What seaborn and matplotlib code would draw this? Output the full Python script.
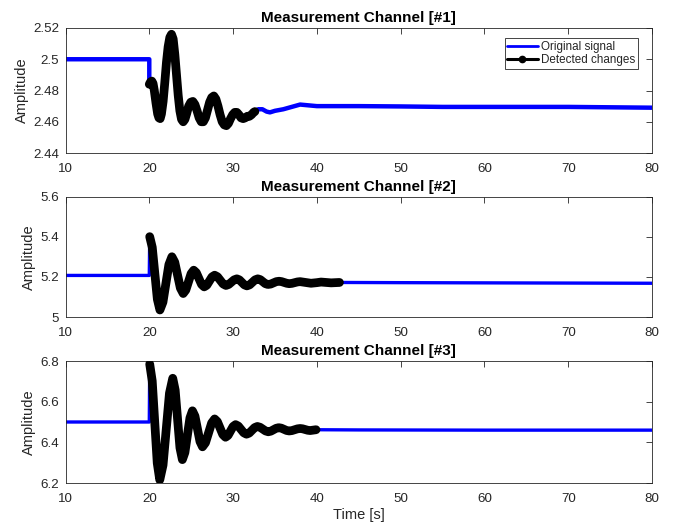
import matplotlib
matplotlib.use("Agg")
import matplotlib.pyplot as plt
from matplotlib.lines import Line2D
from matplotlib.ticker import FuncFormatter
import seaborn as sns

# ---- Channel 1 ----
ch1_pre_t = [10.0, 20.0]
ch1_pre_v = [2.500, 2.500]
ch1_det_t = [20.00, 20.15, 20.30, 20.45, 20.60, 20.80, 21.00, 21.15, 21.30, 21.45,
             21.65, 21.85, 22.05, 22.25, 22.45, 22.65, 22.85, 23.05, 23.25, 23.45,
             23.65, 23.85, 24.05, 24.25, 24.45, 24.70, 24.95, 25.20, 25.45, 25.70,
             25.95, 26.20, 26.45, 26.70, 26.95, 27.20, 27.45, 27.70, 27.95, 28.20,
             28.45, 28.70, 28.95, 29.20, 29.45, 29.70, 29.95, 30.20, 30.45, 30.70,
             30.95, 31.20, 31.45, 31.70, 31.95, 32.20, 32.45, 32.60]
ch1_det_v = [2.4840, 2.4855, 2.4860, 2.4845, 2.4800, 2.4720, 2.4650, 2.4625, 2.4620, 2.4650,
             2.4730, 2.4850, 2.4980, 2.5080, 2.5140, 2.5160, 2.5130, 2.5030, 2.4900, 2.4770,
             2.4670, 2.4615, 2.4600, 2.4615, 2.4650, 2.4700, 2.4725, 2.4730, 2.4710, 2.4670,
             2.4625, 2.4600, 2.4600, 2.4625, 2.4675, 2.4725, 2.4755, 2.4765, 2.4745, 2.4700,
             2.4645, 2.4600, 2.4580, 2.4575, 2.4590, 2.4620, 2.4645, 2.4660, 2.4660, 2.4645,
             2.4625, 2.4620, 2.4625, 2.4635, 2.4635, 2.4645, 2.4660, 2.4665]
ch1_post_t = [32.6, 33.0, 33.5, 34.0, 34.4, 35.0, 36.0, 37.0, 38.0, 39.0, 40.0,
              45.0, 50.0, 55.0, 60.0, 70.0, 80.0]
ch1_post_v = [2.4665, 2.4680, 2.4680, 2.4665, 2.4660, 2.4670, 2.4680, 2.4695, 2.4710,
              2.4705, 2.4700, 2.4700, 2.4698, 2.4695, 2.4695, 2.4695, 2.4690]

# ---- Channel 2 ----
ch2_pre_t = [10.0, 20.0]
ch2_pre_v = [5.207, 5.207]
ch2_det_t = [20.05, 20.355, 20.66, 20.965, 21.27, 21.63, 21.985, 22.34, 22.70,
             23.04, 23.375, 23.71, 24.05, 24.36, 24.675, 24.99, 25.30,
             25.61, 25.925, 26.24, 26.55, 26.86, 27.175, 27.49, 27.80,
             28.14, 28.475, 28.81, 29.15, 29.475, 29.80, 30.125, 30.45,
             30.75, 31.05, 31.35, 31.65, 31.975, 32.30, 32.625, 32.95,
             33.25, 33.55, 33.85, 34.15, 34.49, 34.825, 35.16, 35.50,
             35.80, 36.10, 36.40, 36.70, 37.025, 37.35, 37.675, 38.00,
             38.65, 39.30, 40.00, 40.50, 41.10, 41.70, 42.20, 42.70]
ch2_det_v = [5.400, 5.347, 5.2175, 5.088, 5.035, 5.074, 5.1675, 5.261, 5.300,
             5.273, 5.2085, 5.144, 5.117, 5.134, 5.175, 5.216, 5.233,
             5.221, 5.1915, 5.162, 5.150, 5.158, 5.179, 5.200, 5.208,
             5.2005, 5.1825, 5.1645, 5.157, 5.162, 5.1735, 5.185, 5.190,
             5.185, 5.1725, 5.160, 5.155, 5.160, 5.1725, 5.185, 5.190,
             5.186, 5.176, 5.166, 5.162, 5.164, 5.170, 5.176, 5.178,
             5.176, 5.172, 5.168, 5.166, 5.1675, 5.171, 5.1745, 5.176,
             5.172, 5.168, 5.171, 5.174, 5.172, 5.170, 5.171, 5.172]
ch2_post_t = [42.7, 50.0, 60.0, 70.0, 80.0]
ch2_post_v = [5.172, 5.171, 5.170, 5.169, 5.168]

# ---- Channel 3 ----
ch3_pre_t = [10.0, 20.0]
ch3_pre_v = [6.500, 6.500]
ch3_det_t = [20.05, 20.35, 20.65, 20.95, 21.25, 21.64, 22.025, 22.41, 22.80,
             23.09, 23.375, 23.66, 23.95, 24.25, 24.55, 24.85, 25.15,
             25.45, 25.75, 26.05, 26.35, 26.71, 27.075, 27.44, 27.80,
             28.125, 28.45, 28.775, 29.10, 29.40, 29.70, 30.00, 30.30,
             30.625, 30.95, 31.275, 31.60, 31.925, 32.25, 32.575, 32.90,
             33.225, 33.55, 33.875, 34.20, 34.51, 34.825, 35.14, 35.45,
             35.76, 36.075, 36.39, 36.70, 37.025, 37.35, 37.675, 38.00,
             38.30, 38.60, 38.90, 39.20, 39.55, 39.90]
ch3_det_v = [6.785, 6.702, 6.500, 6.298, 6.215, 6.288, 6.465, 6.642, 6.715,
             6.657, 6.515, 6.373, 6.315, 6.350, 6.435, 6.520, 6.555,
             6.529, 6.4665, 6.404, 6.378, 6.398, 6.4465, 6.495, 6.515,
             6.502, 6.470, 6.438, 6.425, 6.434, 6.456, 6.478, 6.487,
             6.480, 6.4635, 6.447, 6.440, 6.4455, 6.459, 6.4725, 6.478,
             6.474, 6.465, 6.456, 6.452, 6.455, 6.462, 6.469, 6.472,
             6.4697, 6.464, 6.4583, 6.456, 6.4578, 6.462, 6.4662, 6.468,
             6.4665, 6.463, 6.4595, 6.458, 6.460, 6.462]
ch3_post_t = [39.9, 45.0, 60.0, 80.0]
ch3_post_v = [6.462, 6.461, 6.460, 6.460]

titles = ["Measurement Channel [#1]", "Measurement Channel [#2]", "Measurement Channel [#3]"]
y_limits = [(2.44, 2.52), (5.0, 5.6), (6.2, 6.8)]
y_ticks = [[2.44, 2.46, 2.48, 2.50, 2.52], [5.0, 5.2, 5.4, 5.6], [6.2, 6.4, 6.6, 6.8]]
x_ticks = [10, 20, 30, 40, 50, 60, 70, 80]
legend_labels = ["Original signal", "Detected changes"]

channels = [
    (ch1_pre_t, ch1_pre_v, ch1_det_t, ch1_det_v, ch1_post_t, ch1_post_v),
    (ch2_pre_t, ch2_pre_v, ch2_det_t, ch2_det_v, ch2_post_t, ch2_post_v),
    (ch3_pre_t, ch3_pre_v, ch3_det_t, ch3_det_v, ch3_post_t, ch3_post_v),
]

sns.set_style("white")
plt.rcParams["font.family"] = ["Liberation Sans", "DejaVu Sans"]
ink = "#262626"
plt.rcParams.update({
    "axes.edgecolor": ink,
    "axes.linewidth": 0.6,
    "xtick.color": ink,
    "ytick.color": ink,
    "xtick.labelcolor": ink,
    "ytick.labelcolor": ink,
    "axes.labelcolor": ink,
})

fig = plt.figure(figsize=(6.73, 5.27), dpi=100)
fig.patch.set_facecolor("white")

W, H = 673.0, 527.0
left_px, right_px = 65.5, 652.0
rows_px = [(28.0, 153.0), (196.5, 317.0), (361.0, 483.0)]

blue_widths = [3.2, 2.4, 2.4]
axes = []
for i, (pre_t, pre_v, det_t, det_v, post_t, post_v) in enumerate(channels):
    top, bot = rows_px[i]
    ax = fig.add_axes([left_px / W, 1 - bot / H, (right_px - left_px) / W, (bot - top) / H])
    axes.append(ax)
    sig_t = pre_t + det_t + post_t
    sig_v = pre_v + det_v + post_v
    sns.lineplot(x=sig_t, y=sig_v, ax=ax, color=(0, 0, 1), linewidth=blue_widths[i],
                 estimator=None, sort=False, zorder=2)
    sns.lineplot(x=det_t, y=det_v, ax=ax, color="black", linewidth=6.3,
                 estimator=None, sort=False, zorder=3,
                 solid_capstyle="round", solid_joinstyle="round")
    ax.set_xlim(10, 80)
    ax.set_ylim(*y_limits[i])
    ax.set_xticks(x_ticks)
    ax.set_yticks(y_ticks[i])
    ax.yaxis.set_major_formatter(FuncFormatter(lambda v, _: f"{v:g}"))
    ax.tick_params(axis="both", which="major", direction="in", length=4.3, width=0.6,
                   top=True, right=True, labelsize=9.6)
    ax.tick_params(axis="x", pad=7)
    ax.tick_params(axis="y", pad=4.5)
    for s in ax.spines.values():
        s.set_visible(True)
        s.set_color(ink)
        s.set_linewidth(0.6)
    ax.set_title(titles[i], fontsize=11, fontweight="bold", color="black", pad=4)
    ax.set_ylabel("Amplitude", fontsize=10.5, labelpad=3)
    ax.set_xlabel("")

axes[-1].set_xlabel("Time [s]", fontsize=10.5, labelpad=2)

handles = [
    Line2D([], [], color=(0, 0, 1), linewidth=2.0),
    Line2D([], [], color="black", linewidth=2.2, marker="o", markersize=4.5),
]
leg = axes[0].legend(handles, legend_labels, loc="upper right",
                     bbox_to_anchor=(0.976, 0.919), borderaxespad=0,
                     fontsize=8.4, frameon=True, fancybox=False,
                     edgecolor=ink, framealpha=1, handlelength=2.6,
                     handletextpad=0.3, labelspacing=0.12, borderpad=0.22)
leg.get_frame().set_linewidth(0.6)

fig.savefig("out.png", dpi=100, facecolor="white")
